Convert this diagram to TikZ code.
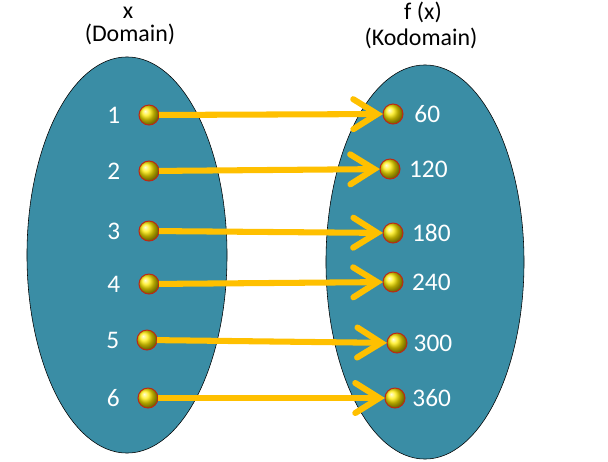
\documentclass[tikz,border=0pt]{standalone}
\usepackage{fontspec}
\setmainfont{Carlito}
\usepackage{tikz}
\usetikzlibrary{arrows.meta, positioning, shapes.geometric}
\definecolor{setteal}{RGB}{58,141,165}
\definecolor{mapyellow}{RGB}{255,192,0}
\definecolor{dotrim}{RGB}{190,40,20}

\begin{document}
\begin{tikzpicture}[
  x=0.025cm, y=-0.025cm,
  font=\fontsize{17}{20}\selectfont,
  set/.style={
    ellipse,
    draw=black,
    thin,
    fill=setteal
  },
  dot/.style={
    circle,
    minimum size=5mm,
    inner sep=0pt,
    outer sep=0pt,
    shading=ball,
    ball color=yellow!85!orange,
    draw=dotrim,
    line width=0.7pt
  },
  num/.style={inner sep=0pt, text=white, font=\fontsize{18}{20}\selectfont},
  arrow/.style={-{Straight Barb[length=6mm, width=7.5mm, line cap=round]}, line width=4.3pt, mapyellow}
]
\useasboundingbox (0,0) rectangle (608,462);
\node[set, minimum width=5cm, minimum height=9.9cm] (domain) at (127,255) {};
\node[set, minimum width=4.95cm, minimum height=9.85cm] (kodomain) at (425,262) {};
\node[inner sep=0pt] (xlabel) at (128,13) {x};
\node (domlabel) at (130,34) {(Domain)};
\node (fxlabel) at (423,12) {f (x)};
\node (kodlabel) at (421,38) {(Kodomain)};
% domain points
\node[dot] (l1) at (149,115) {};
\node[dot] (l2) at (149,171) {};
\node[dot] (l3) at (149,231) {};
\node[dot] (l4) at (149,284) {};
\node[dot] (l5) at (147,340) {};
\node[dot] (l6) at (148,398) {};
\node[num, left=4.6mm of l1] (n1) {1};
\node[num, left=4.6mm of l2] (n2) {2};
\node[num, left=4.6mm of l3] (n3) {3};
\node[num, left=4.6mm of l4] (n4) {4};
\node[num, left=4.4mm of l5] (n5) {5};
\node[num, left=4.5mm of l6] (n6) {6};
% kodomain points
\node[dot] (r1) at (393,114) {};
\node[dot] (r2) at (390,169) {};
\node[dot] (r3) at (393,233) {};
\node[dot] (r4) at (393,282) {};
\node[dot] (r5) at (397,343) {};
\node[dot] (r6) at (395,398) {};
\node[num, right=2.8mm of r1] (v1) {60};
\node[num, right=2.2mm of r2] (v2) {120};
\node[num, right=2.2mm of r3] (v3) {180};
\node[num, right=2.2mm of r4] (v4) {240};
\node[num, right=1.6mm of r5] (v5) {300};
\node[num, right=1.8mm of r6] (v6) {360};
% mapping
\draw[arrow] (l1) -- (r1);
\draw[arrow] (l2) -- (r2);
\draw[arrow] (l3) -- (r3);
\draw[arrow] (l4) -- (r4);
\draw[arrow] (l5) -- (r5);
\draw[arrow] (l6) -- (r6);
\end{tikzpicture}
\end{document}
